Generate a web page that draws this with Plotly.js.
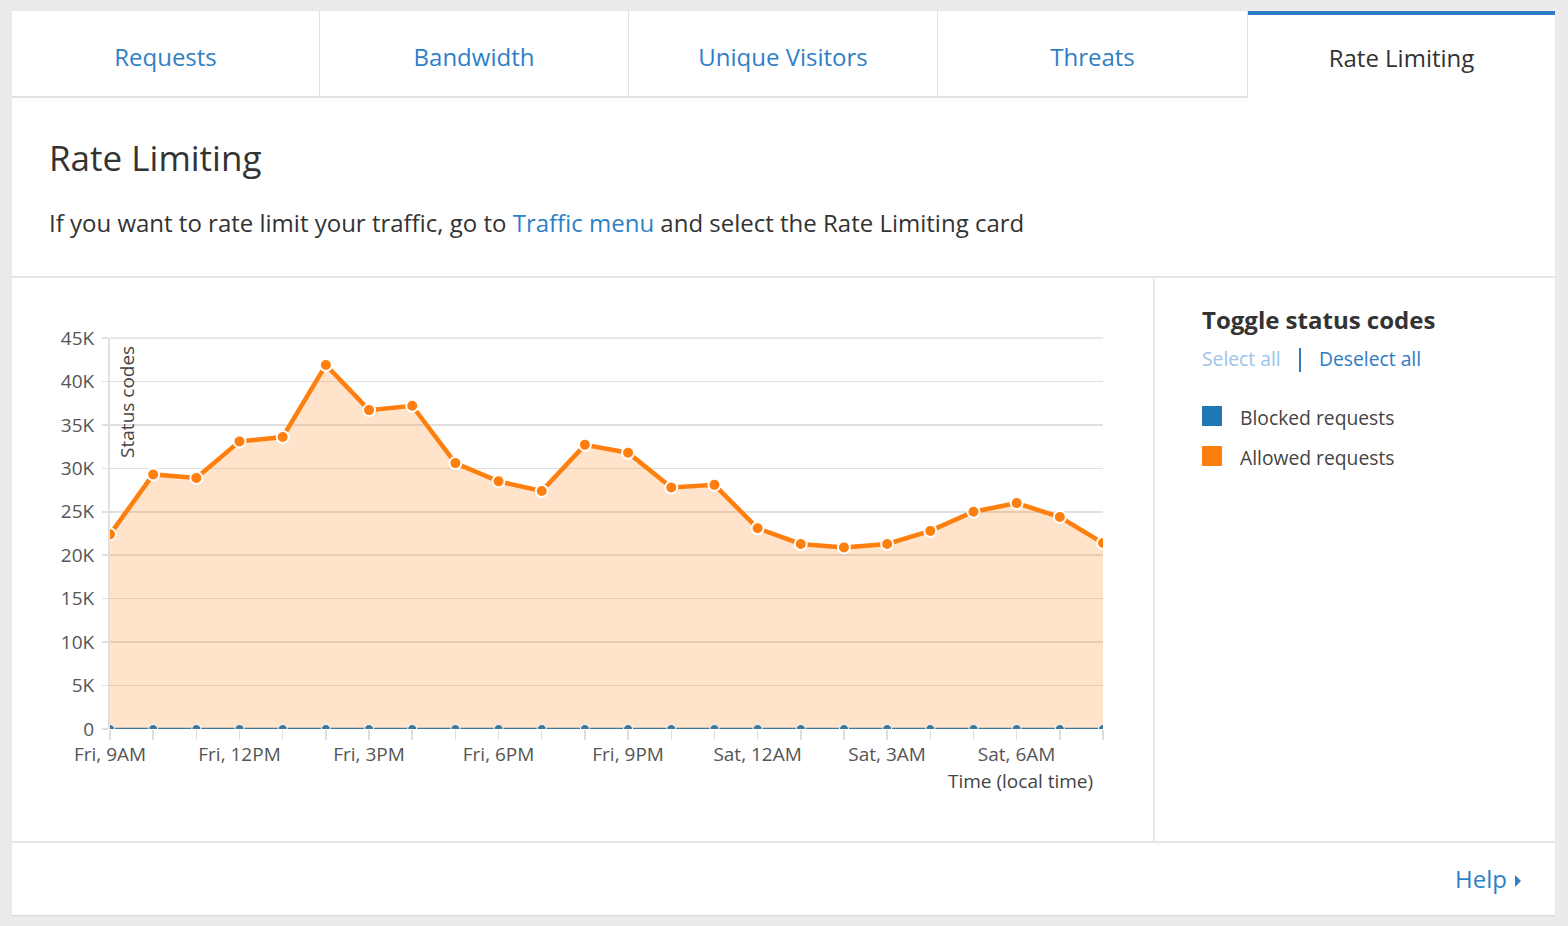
<!DOCTYPE html>
<html>
<head>
<meta charset="utf-8">
<script src="https://cdn.plot.ly/plotly-3.0.1.min.js"></script>
<style>
  html, body { margin:0; padding:0; }
  body { width:1568px; height:926px; background:#ebebeb; font-family:"Open Sans", sans-serif; position:relative; overflow:hidden; color:#333; }
  .card { position:absolute; left:12px; top:11px; width:1543px; height:904px; background:#fff; box-shadow:0 1px 1px rgba(0,0,0,0.08); }
  .tab { position:absolute; top:11px; height:87px; background:#fff; border-right:1px solid #e0e0e0; border-bottom:2px solid #e3e3e3; box-sizing:border-box; text-align:center; line-height:92px; font-size:24px; color:#2f7fc6; }
  .tab.active { border-bottom:none; border-top:4px solid #2f7bc4; color:#333; line-height:86px; height:88px; border-right:none; }
  .h1 { position:absolute; left:49px; top:134px; font-size:35px; color:#333; line-height:48px; }
  .desc { position:absolute; left:49px; top:207px; font-size:24px; color:#333; line-height:32px; white-space:nowrap; }
  .desc a { color:#2f7fc6; text-decoration:none; }
  .hsep { position:absolute; left:12px; width:1543px; height:2px; background:#e5e5e5; }
  .vsep { position:absolute; left:1153px; top:279px; width:2px; height:563px; background:#e8e8e8; }
  .legend-title { position:absolute; left:1202px; top:303px; font-size:24px; font-weight:700; color:#333; }
  .sel { position:absolute; left:1202px; top:345px; font-size:19.3px; color:#9cc4e8; }
  .bar { position:absolute; left:1299px; top:348px; width:2px; height:24px; background:#2f7bc4; }
  .desel { position:absolute; left:1319px; top:345px; font-size:19.3px; color:#2f7bc4; }
  .lg { position:absolute; left:1240px; font-size:19.3px; color:#444; }
  .sw { position:absolute; left:1202px; width:20px; height:20px; }
  .help { position:absolute; left:1455px; top:862px; font-size:24px; color:#2f7fc6; }
  .tri { position:absolute; left:1515px; top:875px; width:0; height:0; border-top:6px solid transparent; border-bottom:6px solid transparent; border-left:6px solid #2f7fc6; }
  #chart { position:absolute; left:12px; top:278px; width:1141px; height:564px; }
</style>
</head>
<body>
<div class="card"></div>
<div class="tab" style="left:12px; width:308px;">Requests</div>
<div class="tab" style="left:320px; width:309px;">Bandwidth</div>
<div class="tab" style="left:629px; width:309px;">Unique Visitors</div>
<div class="tab" style="left:938px; width:310px;">Threats</div>
<div class="tab active" style="left:1248px; width:307px;">Rate Limiting</div>

<div class="h1">Rate Limiting</div>
<div class="desc">If you want to rate limit your traffic, go to <a>Traffic menu</a> and select the Rate Limiting card</div>
<div class="hsep" style="top:276px;"></div>
<div class="hsep" style="top:841px;"></div>
<div class="vsep"></div>

<div id="chart"></div>

<div class="legend-title">Toggle status codes</div>
<div class="sel">Select all</div>
<div class="bar"></div>
<div class="desel">Deselect all</div>
<div class="sw" style="top:406px; background:#1f77b4;"></div>
<div class="lg" style="top:404px;">Blocked requests</div>
<div class="sw" style="top:446px; background:#ff7f0e;"></div>
<div class="lg" style="top:444px;">Allowed requests</div>

<div class="help">Help</div>
<div class="tri"></div>

<script>
const times = [
  '2024-01-05 09:00','2024-01-05 10:00','2024-01-05 11:00','2024-01-05 12:00',
  '2024-01-05 13:00','2024-01-05 14:00','2024-01-05 15:00','2024-01-05 16:00',
  '2024-01-05 17:00','2024-01-05 18:00','2024-01-05 19:00','2024-01-05 20:00',
  '2024-01-05 21:00','2024-01-05 22:00','2024-01-05 23:00','2024-01-06 00:00',
  '2024-01-06 01:00','2024-01-06 02:00','2024-01-06 03:00','2024-01-06 04:00',
  '2024-01-06 05:00','2024-01-06 06:00','2024-01-06 07:00','2024-01-06 08:00'
];
const allowedRequests = [
  22400, 29300, 28900, 33100, 33600, 41900, 36700, 37200,
  30600, 28500, 27400, 32700, 31800, 27800, 28100, 23100,
  21300, 20900, 21300, 22800, 25000, 26000, 24400, 21400
];
const blockedRequests = [
  0, 0, 0, 0, 0, 0, 0, 0, 0, 0, 0, 0,
  0, 0, 0, 0, 0, 0, 0, 0, 0, 0, 0, 0
];
const xTickTimes = ['2024-01-05 09:00','2024-01-05 12:00','2024-01-05 15:00','2024-01-05 18:00',
                    '2024-01-05 21:00','2024-01-06 00:00','2024-01-06 03:00','2024-01-06 06:00'];
const xTickLabels = ['Fri, 9AM','Fri, 12PM','Fri, 3PM','Fri, 6PM','Fri, 9PM','Sat, 12AM','Sat, 3AM','Sat, 6AM'];
const yTickVals = [0, 5000, 10000, 15000, 20000, 25000, 30000, 35000, 40000, 45000];
const yTickLabels = ['0','5K','10K','15K','20K','25K','30K','35K','40K','45K'];

const traces = [
  {
    x: times, y: allowedRequests, name: 'Allowed requests', type: 'scatter', mode: 'lines+markers',
    fill: 'tozeroy', fillcolor: 'rgba(255,127,14,0.22)',
    line: {color: '#ff7f0e', width: 4.5},
    marker: {color: '#ff7f0e', size: 12, line: {color: '#fff', width: 2}}
  },
  {
    x: times, y: blockedRequests, name: 'Blocked requests', type: 'scatter', mode: 'lines+markers',
    line: {color: '#3f7897', width: 2.5},
    marker: {color: '#3f7897', size: 9, line: {color: '#fff', width: 1}}
  }
];

const layout = {
  width: 1141, height: 564,
  margin: {l: 98, r: 50, t: 60, b: 113},
  paper_bgcolor: 'rgba(0,0,0,0)', plot_bgcolor: 'rgba(0,0,0,0)',
  showlegend: false,
  font: {family: '"Open Sans", sans-serif', size: 19, color: '#555'},
  xaxis: {
    type: 'date', range: [times[0], times[times.length - 1]],
    tickmode: 'array', tickvals: xTickTimes, ticktext: xTickLabels,
    ticks: 'outside', ticklen: 10, tickcolor: '#dedede', tickwidth: 1.5,
    ticklabelstandoff: -2,
    showgrid: false, zeroline: false, showline: false,
    tickfont: {size: 19, color: '#555'},
    minor: {dtick: 3600000, tick0: times[0], ticks: 'outside', ticklen: 10, tickcolor: '#dedede', tickwidth: 1.5, showgrid: false},
    fixedrange: true
  },
  yaxis: {
    range: [0, 45000], tickmode: 'array', tickvals: yTickVals, ticktext: yTickLabels,
    showgrid: true, gridcolor: '#e0e0e0', gridwidth: 1.5,
    zeroline: false, showline: true, linecolor: '#e0e0e0', linewidth: 2,
    ticks: 'outside', ticklen: 6, tickcolor: '#e0e0e0', tickwidth: 1.5,
    ticklabelstandoff: 4,
    tickfont: {size: 19, color: '#555'},
    fixedrange: true
  },
  shapes: [
    {type: 'line', xref: 'paper', yref: 'paper', x0: 0, x1: 1, y0: 1, y1: 1, layer: 'below',
     line: {color: '#e0e0e0', width: 1.5}}
  ],
  annotations: [
    {text: 'Status codes', xref: 'paper', yref: 'paper', x: 0.017, y: 1, xanchor: 'center', yanchor: 'top',
     yshift: -6, textangle: -90, showarrow: false, font: {size: 19, color: '#444'}},
    {text: 'Time (local time)', xref: 'paper', yref: 'paper', x: 1, y: -0.133, xanchor: 'right', yanchor: 'middle',
     xshift: -8, showarrow: false, font: {size: 19, color: '#444'}}
  ]
};

Plotly.newPlot('chart', traces, layout, {displayModeBar: false, staticPlot: true});
</script>
</body>
</html>
